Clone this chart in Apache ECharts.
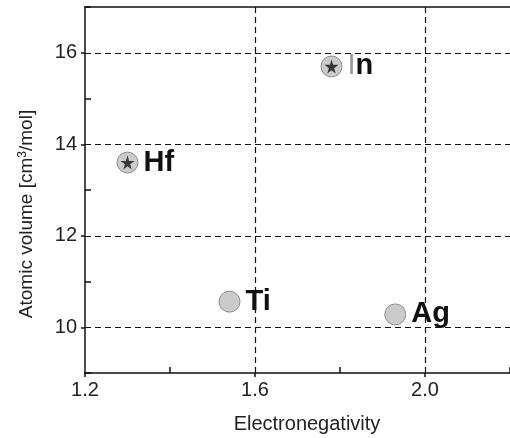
<!DOCTYPE html>
<html>
<head>
<meta charset="utf-8">
<script src="https://cdn.jsdelivr.net/npm/echarts@6/dist/echarts.min.js"></script>
<style>
html,body{margin:0;padding:0;background:#fff;}
#c{width:510px;height:438px;}
</style>
</head>
<body>
<div id="c"></div>
<script>
// ---- data ----
const elements = ['Hf', 'In', 'Ti', 'Ag'];
const electronegativity = [1.30, 1.78, 1.54, 1.93];
const atomicVolume = [13.6, 15.7, 10.56, 10.28];
const starred = [true, true, false, false];

const xTickLabels = [1.2, 1.6, 2.0];
const xMinorTicks = [1.4, 1.8, 2.2];
const yTickLabels = [10, 12, 14, 16];
const yMinorTicks = [9, 11, 13, 15, 17];
const xGrid = [1.6, 2.0];
const yGrid = [10, 12, 14, 16];

const FONT = "'Liberation Sans', Arial, Helvetica, sans-serif";
const starPath = 'path://M50,0 L61,35 L98,35 L68,57 L79,91 L50,70 L21,91 L32,57 L2,35 L39,35 Z';

const circleData = elements.map((el, i) => ({
  name: el,
  value: [electronegativity[i], atomicVolume[i]]
}));
const starData = elements.map((el, i) => starred[i] ? [electronegativity[i], atomicVolume[i]] : null).filter(d => d);

const chart = echarts.init(document.getElementById('c'), null, {renderer: 'canvas'});
const axisLineStyle = {color: '#111', width: 1.5};
const dashStyle = {color: '#111', width: 1.2, type: [6, 4]};

chart.setOption({
  animation: false,
  backgroundColor: '#fff',
  grid: {left: 85, top: 7, width: 429, height: 366, containLabel: false},
  xAxis: [
    {
      type: 'value', min: 1.2, max: 2.2, position: 'bottom',
      axisLine: {show: true, onZero: false, lineStyle: axisLineStyle},
      axisTick: {show: true, inside: false, length: 4, customValues: xTickLabels, lineStyle: axisLineStyle},
      axisLabel: {show: true, customValues: xTickLabels, margin: 7, fontSize: 20, color: '#222', fontFamily: FONT,
        formatter: v => v.toFixed(1)},
      splitLine: {show: false}
    },
    {
      type: 'value', min: 1.2, max: 2.2, position: 'bottom',
      axisLine: {show: false},
      axisTick: {show: true, inside: true, length: 6, customValues: xMinorTicks, lineStyle: axisLineStyle},
      axisLabel: {show: false},
      splitLine: {show: false}
    },
    {
      type: 'value', min: 1.2, max: 2.2, position: 'top',
      axisLine: {show: true, onZero: false, lineStyle: axisLineStyle},
      axisTick: {show: false}, axisLabel: {show: false}, splitLine: {show: false}
    }
  ],
  yAxis: [
    {
      type: 'value', min: 9, max: 17, position: 'left',
      axisLine: {show: true, onZero: false, lineStyle: axisLineStyle},
      axisTick: {show: true, inside: false, length: 4, customValues: yTickLabels, lineStyle: axisLineStyle},
      axisLabel: {show: true, customValues: yTickLabels, margin: 8, fontSize: 20, color: '#222', fontFamily: FONT},
      splitLine: {show: false}
    },
    {
      type: 'value', min: 9, max: 17, position: 'left',
      axisLine: {show: false},
      axisTick: {show: true, inside: true, length: 6, customValues: yMinorTicks, lineStyle: axisLineStyle},
      axisLabel: {show: false},
      splitLine: {show: false}
    }
  ],
  graphic: [
    {
      type: 'text', x: 27, y: 214, rotation: Math.PI / 2,
      style: {
        text: 'Atomic volume [cm{sup|3}/mol]',
        font: '19px ' + FONT, fill: '#222', align: 'center', verticalAlign: 'middle',
        rich: {sup: {fontSize: 12, fill: '#222', fontFamily: FONT, verticalAlign: 'top', padding: [0, 0, 8, 0]}}
      }
    },
    {
      type: 'text', x: 307, y: 424,
      style: {text: 'Electronegativity', font: '20px ' + FONT, fill: '#222', align: 'center', verticalAlign: 'middle'}
    }
  ],
  series: [
    {
      type: 'scatter', xAxisIndex: 0, yAxisIndex: 0, z: 1, silent: true,
      data: [],
      markLine: {
        silent: true, symbol: 'none', animation: false,
        label: {show: false},
        lineStyle: dashStyle,
        data: yGrid.map(v => ({yAxis: v})).concat(xGrid.map(v => ({xAxis: v})))
      }
    },
    {
      type: 'scatter', xAxisIndex: 0, yAxisIndex: 0, z: 3,
      data: circleData,
      symbol: 'circle', symbolSize: 21,
      itemStyle: {color: '#cbcbcb', borderColor: '#8c8c8c', borderWidth: 1, opacity: 1},
      label: {
        show: true, position: 'right', distance: 5,
        fontSize: 29, fontWeight: 'bold', color: '#111', fontFamily: FONT,
        formatter: p => p.name === 'In' ? '{i|I}{b|n}' : p.name,
        rich: {
          i: {fontSize: 29, fontWeight: 'normal', color: '#999', fontFamily: FONT},
          b: {fontSize: 29, fontWeight: 'bold', color: '#111', fontFamily: FONT}
        }
      }
    },
    {
      type: 'scatter', xAxisIndex: 0, yAxisIndex: 0, z: 4,
      data: starData,
      symbol: starPath, symbolSize: 14,
      itemStyle: {color: '#111'}
    }
  ]
});
</script>
</body>
</html>
